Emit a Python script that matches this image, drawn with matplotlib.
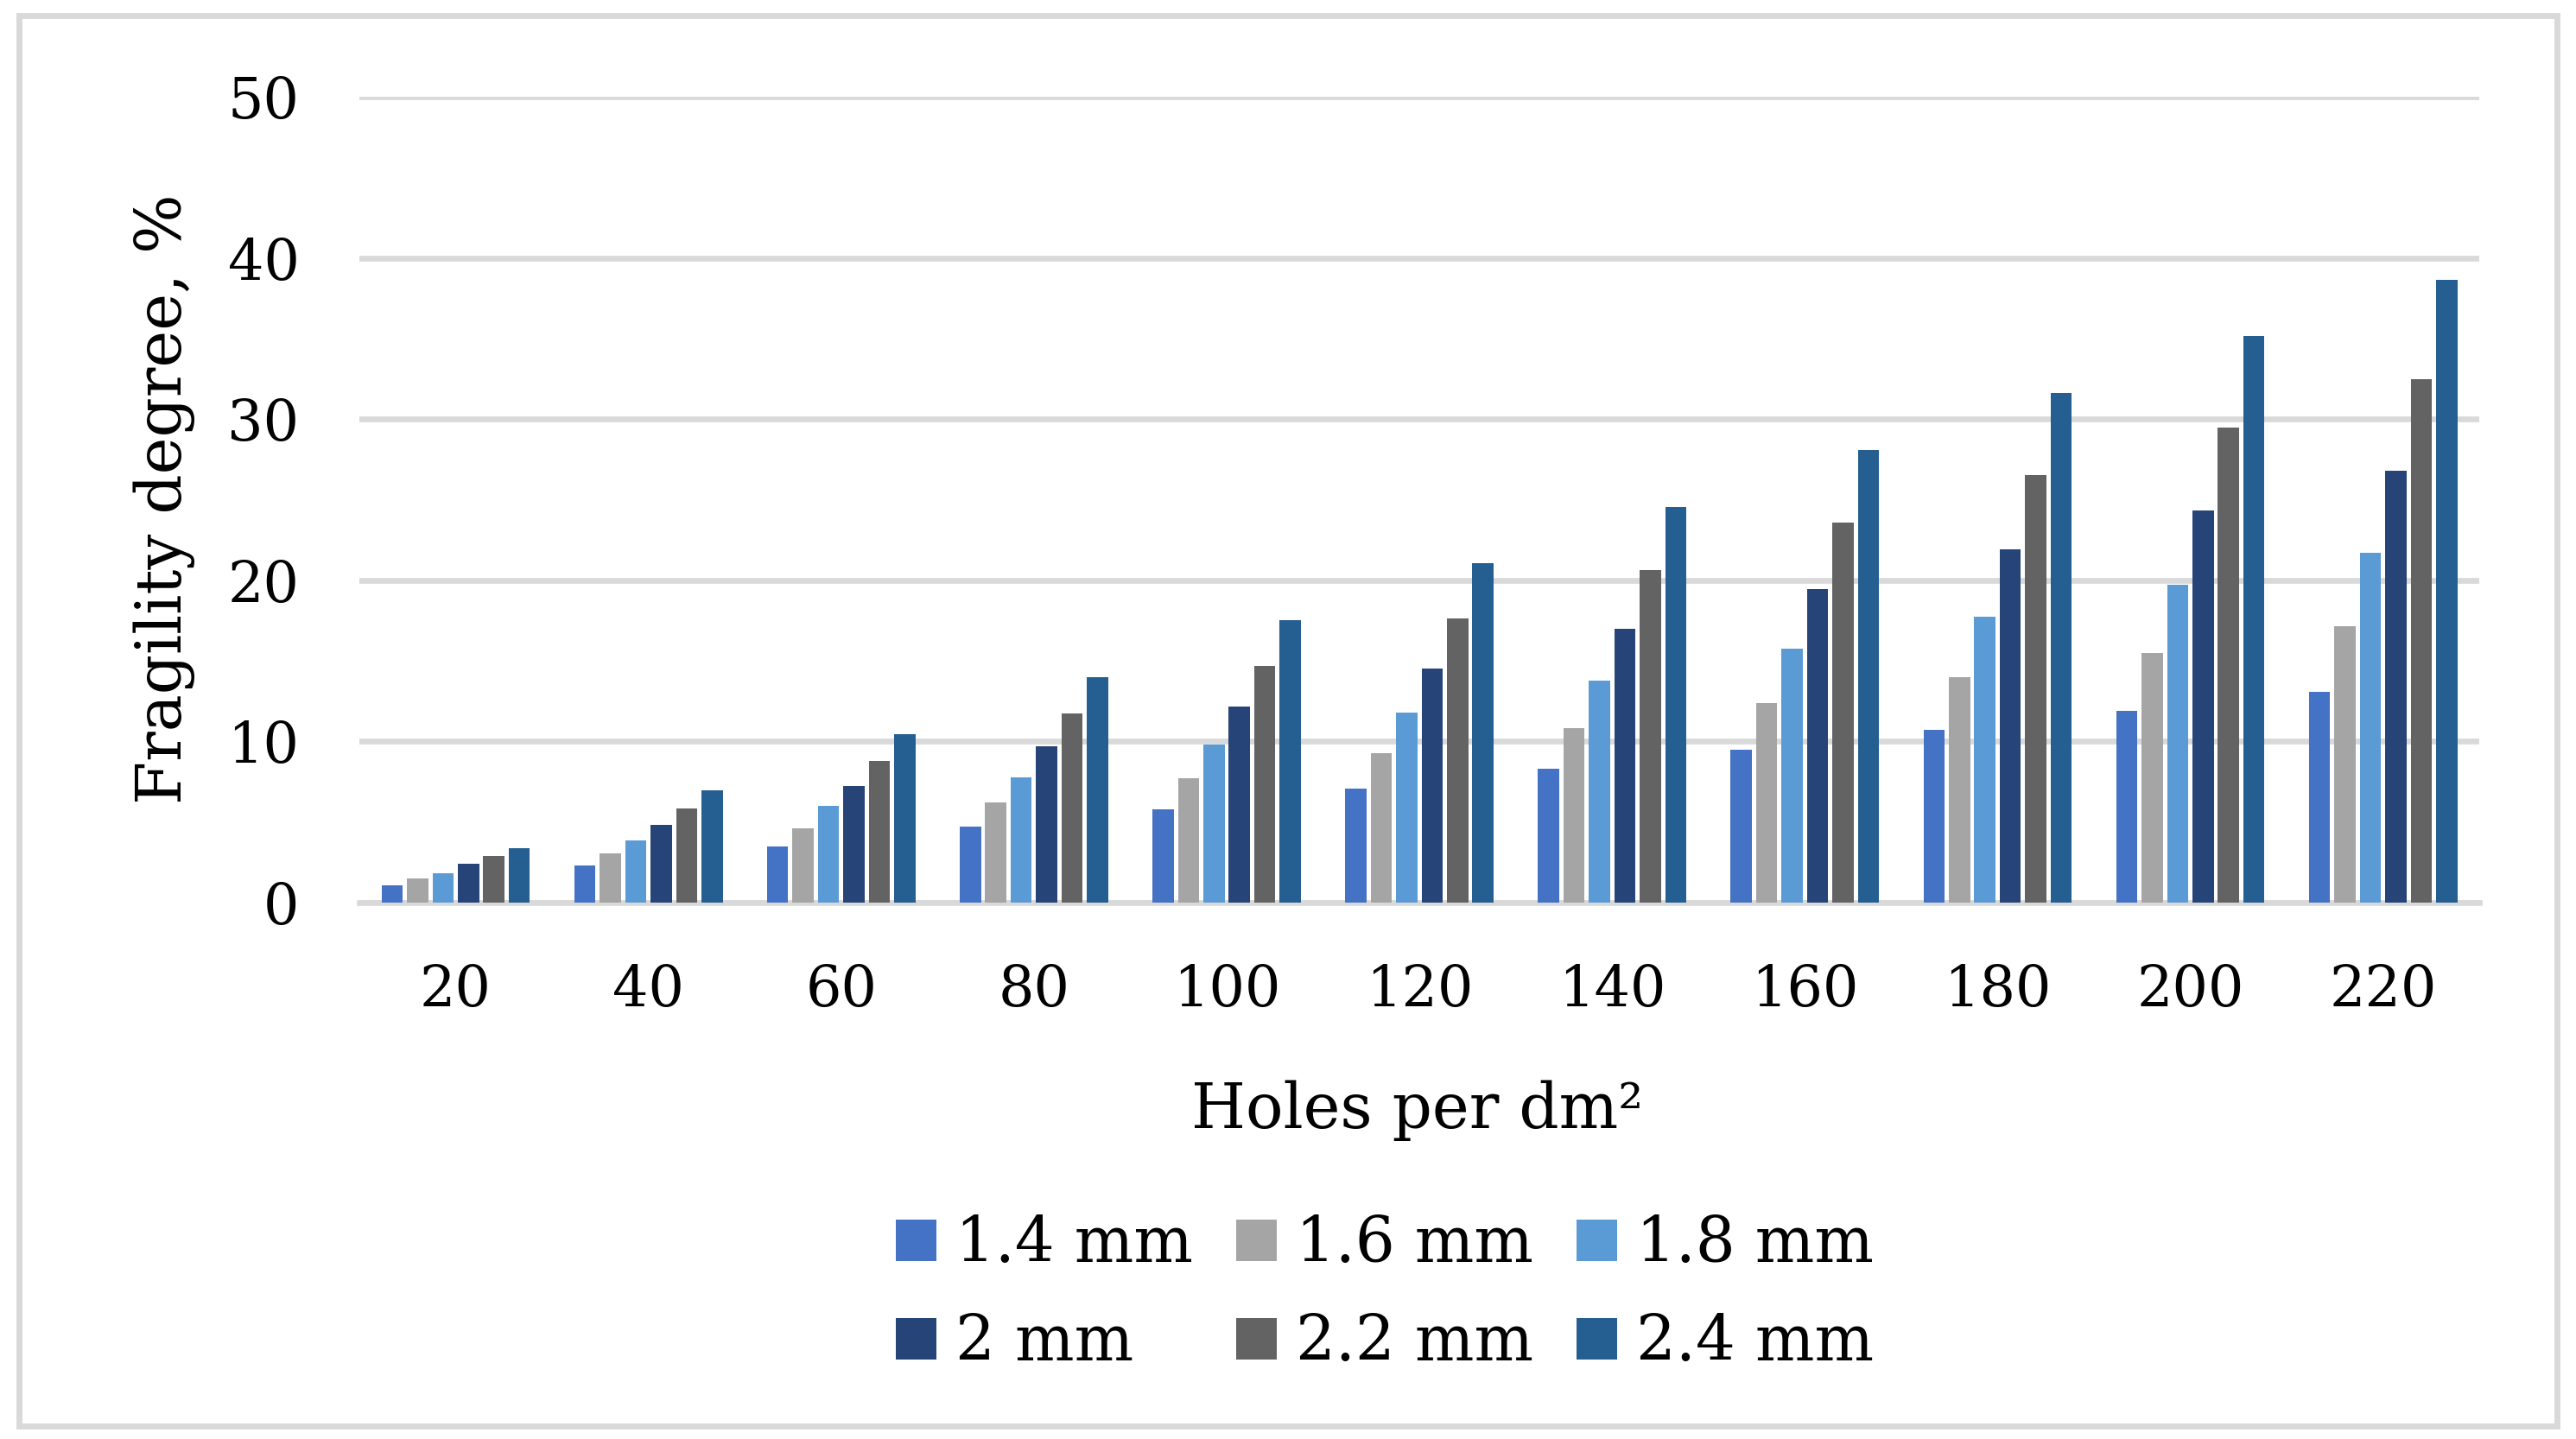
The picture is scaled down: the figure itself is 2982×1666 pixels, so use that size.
import numpy as np
import matplotlib
matplotlib.use("Agg")
import matplotlib.pyplot as plt
from matplotlib.patches import Rectangle, Patch

plt.rcParams['font.family'] = ['DejaVu Serif']

holes = ['20', '40', '60', '80', '100', '120', '140', '160', '180', '200', '220']
diam_labels = ['1.4 mm', '1.6 mm', '1.8 mm', '2 mm', '2.2 mm', '2.4 mm']

d14 = [1.1, 2.3, 3.5, 4.7, 5.8, 7.1, 8.3, 9.5, 10.7, 11.9, 13.1]
d16 = [1.5, 3.05, 4.6, 6.2, 7.7, 9.3, 10.85, 12.4, 14.0, 15.5, 17.15]
d18 = [1.85, 3.85, 6.0, 7.8, 9.8, 11.8, 13.8, 15.75, 17.75, 19.7, 21.7]
d20 = [2.4, 4.85, 7.25, 9.7, 12.15, 14.55, 17.0, 19.45, 21.9, 24.35, 26.8]
d22 = [2.9, 5.85, 8.8, 11.75, 14.7, 17.65, 20.65, 23.6, 26.55, 29.5, 32.5]
d24 = [3.4, 6.95, 10.45, 14.0, 17.5, 21.05, 24.55, 28.1, 31.6, 35.15, 38.65]
series = [d14, d16, d18, d20, d22, d24]

colors = ['#4472C4', '#A5A5A5', '#5B9BD5', '#264478', '#636363', '#255E91']

fig = plt.figure(figsize=(29.82, 16.66), dpi=100)
ax = fig.add_axes([0.1395, 0.3727, 0.823, 0.5601])

x = np.arange(len(holes))
pitch = 0.132
width = 0.11
for i, (vals, c) in enumerate(zip(series, colors)):
    ax.bar(x + (i - 2.5) * pitch, vals, width=width, color=c, zorder=3,
           label=diam_labels[i])

ax.set_xlim(-0.5, len(holes) - 0.5)
ax.set_ylim(0, 50)
ax.set_yticks([0, 10, 20, 30, 40, 50])
ax.set_xticks(x)
ax.set_xticklabels(holes)
ax.grid(axis='y', color='#D9D9D9', linewidth=4.8, zorder=0)
for s in ['top', 'right', 'left']:
    ax.spines[s].set_visible(False)
ax.spines['bottom'].set_color('#D9D9D9')
ax.spines['bottom'].set_linewidth(4.8)
ax.tick_params(axis='both', length=0, labelsize=47)
ax.tick_params(axis='x', pad=50)
ax.tick_params(axis='y', pad=50)

fig.text(0.0637, 0.653, 'Fragility degree, %', rotation=90, ha='center',
         va='center', fontsize=52)
fig.text(0.5503, 0.228, 'Holes per dm²', ha='center', va='center', fontsize=52)

# legend filled column by column, so reorder to get row order
order = [0, 3, 1, 4, 2, 5]
handles = [Patch(facecolor=colors[i], label=diam_labels[i]) for i in order]
fig.legend(handles=handles, loc='center', bbox_to_anchor=(0.5376, 0.1008),
           ncol=3, frameon=False, fontsize=52, handlelength=0.65,
           handleheight=0.65, handletextpad=0.3, columnspacing=0.7,
           labelspacing=0.6)

fig.patches.append(Rectangle((0.0075, 0.009), 0.985, 0.98, transform=fig.transFigure,
                             fill=False, edgecolor='#D9D9D9', linewidth=5))

fig.savefig('out.png', dpi=100)
